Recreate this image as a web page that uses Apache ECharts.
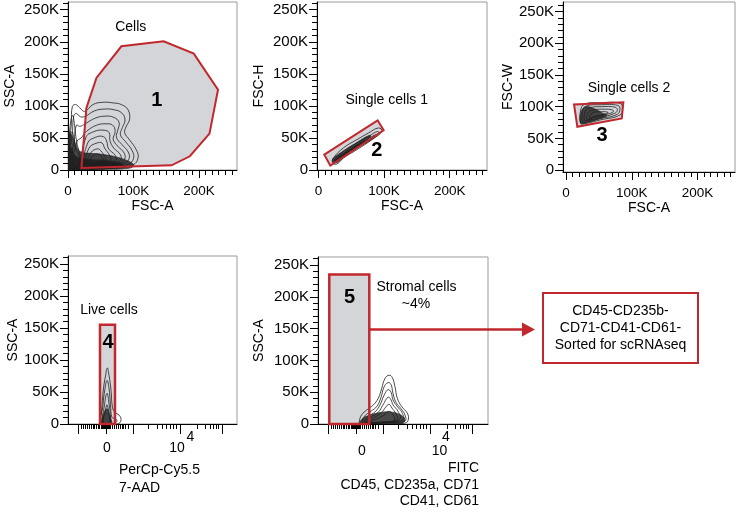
<!DOCTYPE html>
<html><head><meta charset="utf-8">
<script src="https://cdn.jsdelivr.net/npm/echarts@6/dist/echarts.min.js"></script>
<style>html,body{margin:0;padding:0;background:#fff}#c{width:736px;height:512px}</style>
</head><body><div id="c"></div>
<script>
// ---------- tick values (K units for linear axes, display units for biexponential axes) ----------
const linYLabels = [0, 50, 100, 150, 200, 250];
const linYMinor = [10,20,30,40,60,70,80,90,110,120,130,140,160,170,180,190,210,220,230,240,260];
const fscXLabels = [0, 100, 200];
const fscXMinor = [10,20,30,40,50,60,70,80,90,110,120,130,140,150,160,170,180,190,210,220,230,240,250];
const biexMajor = [10, 38, 65, 112, 154];
const biexMinor = [13,15,17,19,21,23,25,26,28,30,31,33,34,35,36,37,39,40,41,42,44,46,48,50,52,54,55,57,60,80,89,94,98,102,105,108,129,137,142,145,148,150];
const biexLabelText = ['0', '10'];
const biexExpText = '4';
const p4XLabelVals = [39, 109];
const p4XExpVal = 122.5;
const p5XLabelVals = [44, 121.5];
const p5XExpVal = 128;

// ---------- gates ----------
const gate1 = [[20.5,3.3],[28.1,96.8],[43.4,143.6],[81.5,192.9],[146,200.6],[192,181.5],[229,125.3],[216,56.7],[186,21.4],[158,7.3]];
const gate2 = [[8.7,24],[17.9,6.9],[99.3,61.9],[90.1,77.5]];
const gate3 = [[12.2,103.4],[17.2,68.4],[84.8,81.4],[87.2,107]];
const gate4 = [[32,0],[32,155],[47,155],[47,0]];
const gate5 = [[11.3,0],[11.3,235],[51.3,235],[51.3,0]];

// ---------- contour rings ----------
const p1Rings = [
  [[2.6,3],[5.2,73],[6.7,99],[11.8,102],[17.9,97],[25.5,91.5],[38,102],[53,105.6],[69,104.6],[81.5,102],[91.6,94],[94,79],[89,68],[86.6,58],[94,47],[104,32],[107,19],[99,8],[70,3]],
  [[5,4],[7,60],[9,85],[13,88],[19,83],[27,84],[40,92],[55,95],[70,94],[82,89],[87,78],[83,66],[80,55],[88,44],[98,30],[100,18],[92,9],[65,4]],
  [[8,5],[10,50],[13,70],[18,68],[26,72],[42,81],[57,84],[70,82],[78,74],[76,62],[74,51],[82,40],[92,28],[93,17],[85,10],[60,5]],
  [[10,6],[14,45],[20,50],[28,60],[44,70],[58,72],[68,70],[72,60],[69,48],[76,37],[86,26],[86,16],[78,10],[55,6]],
  [[24,7],[27,50],[40,60],[55,62],[63,58],[64,46],[70,34],[80,24],[80,15],[70,10],[50,7]],
  [[26,8],[30,42],[42,51],[54,52],[59,45],[62,33],[72,23],[73,15],[62,10],[45,8]],
  [[28,9],[32,34],[44,42],[52,42],[56,34],[64,22],[65,15],[55,11],[40,9]],
  [[30,10],[35,27],[45,33],[50,30],[56,21],[57,15],[48,12]],
  [[32,11],[38,22],[46,25],[52,20],[54,14],[45,12]],
  [[1,3],[2,50],[4,75],[7,85],[10,70],[13,45],[18,25],[22,10],[15,4]],
  [[1,4],[3,45],[6,60],[9,50],[12,32],[18,18],[14,6]]
];
const p1Cores = [
  [[-2,0],[-2,45],[2,58],[8,50],[14,35],[20,28],[35,26],[55,24],[75,20],[92,14],[100,8],[95,3],[60,1],[20,1]],
  [[-2,0],[-2,30],[4,36],[12,22],[30,17],[60,15],[80,11],[86,5],[50,2]]
];
const p2Rings = [
  [[23,19],[38,34.5],[58.6,47.4],[76.4,57.8],[91.6,65.6],[96.8,60.3],[81.5,47.4],[58.6,31.8],[38.2,18.9],[28,9.5],[21.4,11]],
  [[25,17],[40,31],[60,43],[77,53],[90,60],[92,57],[80,47],[60,35],[40,21],[28,12],[24,13]],
  [[27,16],[42,28],[62,40],[78,50],[87,55],[86,52],[76,45],[58,35],[40,22],[29,14]]
];
const p2Cores = [
  [[21,14],[23,19],[40,31],[60,44],[75,53],[80,53],[72,45],[55,33],[38,20],[26,11]],
  [[24,15],[40,27],[60,40],[70,46],[68,42],[54,33],[38,21],[28,13]]
];
const p3Rings = [
  [[22.3,73.8],[22.3,94.8],[28.9,104.2],[51.7,106.3],[82.1,105.3],[85.7,97.5],[82.1,86.9],[51.7,79],[26.3,72.7]],
  [[25,76],[25,93],[31,101],[52,103],[79,102],[82,96],[78,88],[52,81],[28,75]],
  [[28,78],[29,92],[35,98],[54,100],[75,99],[78,94],[73,89],[52,83],[32,78]],
  [[32,80],[34,91],[42,95],[58,96],[70,95],[72,92],[62,88],[45,84]],
  [[36,82],[40,90],[52,92],[64,91],[58,88],[44,85]]
];
const p3Cores = [
  [[22,74],[23,92],[30,100],[45,96],[55,90],[62,86],[48,80],[32,75]]
];
const p4Rings = [
  [[33,0],[33.7,22],[35.3,53],[37.5,75],[39.3,87.5],[41,76],[43,53],[44.5,26],[47,18],[51,14],[53,7],[51,1],[45,0]],
  [[34,1],[35,30],[37,55],[39,68],[41,56],[42.5,30],[44,10],[47,9],[49,5],[46,1]],
  [[35,1],[36.5,30],[39,48],[41,32],[42.5,10],[42,1]],
  [[35.5,1],[37.5,22],[39,30],[40.5,20],[41.5,1]]
];
const p4Cores = [
  [[34,0],[35,14],[39,24],[42,12],[43.5,0]]
];
const p5Rings = [
  [[41.3,4],[43.7,14.5],[48.7,22],[55.3,30],[60.3,40.5],[63.7,56],[67,71.6],[71,76.7],[74.3,73],[77,58.5],[79.3,40.5],[83.7,27.4],[89.3,17],[90.3,6.7],[87,1.5],[68.7,0],[42,0]],
  [[44,3],[47,13],[53,20],[59,28],[63,42],[66,58],[70,65],[73,62],[75,48],[78,34],[83,24],[87,14],[87,5],[70,2],[46,1]],
  [[46,3],[50,12],[57,19],[62,30],[66,45],[70,54],[73,50],[75,38],[79,28],[84,18],[85,7],[70,3],[48,2]],
  [[48,3],[53,11],[60,18],[65,30],[70,42],[73,38],[75,30],[80,20],[82,8],[68,3]],
  [[50,3],[56,10],[63,17],[68,27],[71,31],[74,25],[78,16],[79,7],[66,3]],
  [[52,3],[60,9],[66,14],[71,20],[76,12],[76,5],[64,3]]
];
const p5Cores = [
  [[42,1],[45,9],[52,14],[62,18],[72,19],[82,15],[87,7],[84,1],[65,0]]
];

// ---------- layout ----------
const FONT = '"Liberation Sans", Arial, sans-serif';
const RED = '#c1272d';
const GATE_FILL = '#d4d5d8';
const grids = [
  {left:68, top:2, width:169, height:168},
  {left:317, top:2, width:170, height:168},
  {left:563, top:2, width:172, height:170},
  {left:68, top:256, width:169, height:168},
  {left:318, top:257, width:170, height:167}
].map(g => Object.assign(g, {show:true, borderColor:'#9a9a9a', borderWidth:1, backgroundColor:'transparent'}));

const panels = [
  {x:[0,258], y:[0,262], xType:'fsc', xName:'FSC-A', yName:'SSC-A', yGap:51, gate:gate1, rings:p1Rings, cores:p1Cores, gw:2},
  {x:[-2.4,257], y:[0,262], xType:'fsc', xName:'FSC-A', yName:'FSC-H', yGap:51, gate:gate2, rings:p2Rings, cores:p2Cores, gw:2},
  {x:[-4.6,257], y:[-3,265], xType:'fsc', xName:'FSC-A', yName:'FSC-W', yGap:46, gate:gate3, rings:p3Rings, cores:p3Cores, gw:2},
  {x:[0,169], y:[0,262.5], xType:'biex', labels:p4XLabelVals, exp:p4XExpVal, lmargin:17, yName:'SSC-A', yGap:48, gate:gate4, rings:p4Rings, cores:p4Cores, gw:2.5},
  {x:[0,170], y:[0,262.5], xType:'biex', labels:p5XLabelVals, exp:p5XExpVal, lmargin:20, yName:'SSC-A', yGap:52, gate:gate5, rings:p5Rings, cores:p5Cores, gw:2.5}
];

const xAxes = [], yAxes = [], series = [], expAxes = [];
const kFmt = v => v === 0 ? '0' : (v + 'K');

panels.forEach((p, i) => {
  const isB = p.xType === 'biex';
  xAxes.push({
    gridIndex:i, type:'value', min:p.x[0], max:p.x[1], position:'bottom',
    axisLine:{show:true, onZero:false, lineStyle:{color:'#000', width:1}},
    axisTick:{show:true, customValues: isB ? biexMajor : fscXLabels, length: isB ? 10 : 8, lineStyle:{color:'#000'}},
    axisLabel:{show:true, customValues: isB ? p.labels : fscXLabels, margin: isB ? p.lmargin : 14,
      fontSize: isB ? 14 : 13.5, color:'#000', fontFamily:FONT,
      formatter: isB ? (v => biexLabelText[p.labels.indexOf(v)]) : kFmt},
    splitLine:{show:false},
    name: isB ? '' : p.xName, nameLocation:'middle', nameGap:25,
    nameTextStyle:{fontSize:14, color:'#000', fontFamily:FONT}
  });
  xAxes.push({
    gridIndex:i, type:'value', min:p.x[0], max:p.x[1], position:'bottom',
    axisLine:{show:false, onZero:false},
    axisTick:{show:true, customValues: isB ? biexMinor : fscXMinor, length:5, lineStyle:{color:'#000'}},
    axisLabel:{show:false}, splitLine:{show:false}
  });
  if (isB) {
    expAxes.push({
      gridIndex:i, type:'value', min:p.x[0], max:p.x[1], position:'bottom',
      axisLine:{show:false, onZero:false}, axisTick:{show:false}, splitLine:{show:false},
      axisLabel:{show:true, customValues:[p.exp], margin:6, fontSize:14, color:'#000', fontFamily:FONT,
        formatter: () => biexExpText}
    });
  }
  yAxes.push({
    gridIndex:i, type:'value', min:p.y[0], max:p.y[1], position:'left',
    axisLine:{show:true, onZero:false, lineStyle:{color:'#000', width:1}},
    axisTick:{show:true, customValues: linYLabels, length:8, lineStyle:{color:'#000'}},
    axisLabel:{show:true, customValues: linYLabels, margin:9, fontSize:15, color:'#000', fontFamily:FONT, formatter:kFmt},
    splitLine:{show:false},
    name:p.yName, nameLocation:'middle', nameGap:p.yGap,
    nameTextStyle:{fontSize:14, color:'#000', fontFamily:FONT}
  });
  yAxes.push({
    gridIndex:i, type:'value', min:p.y[0], max:p.y[1], position:'left',
    axisLine:{show:false, onZero:false},
    axisTick:{show:true, customValues: linYMinor, length:5, lineStyle:{color:'#000'}},
    axisLabel:{show:false}, splitLine:{show:false}
  });

  const mk = (list, style, z, clip) => ({
    type:'custom', coordinateSystem:'cartesian2d', xAxisIndex:i*2, yAxisIndex:i*2,
    z:z, silent:true, clip:clip, animation:false,
    data: list.map(r => r[0]),
    renderItem: (params, api) => {
      const pts = list[params.dataIndex].map(pt => api.coord(pt));
      return {type:'polygon', shape:{points:pts, smooth:style.smooth || 0},
        style:{fill:style.fill || 'none', stroke:style.stroke || 'none', lineWidth:style.lineWidth || 1, opacity:style.opacity == null ? 1 : style.opacity}};
    }
  });
  series.push(mk([p.gate], {fill:GATE_FILL}, 1, false));
  series.push(mk(p.cores, {fill:'#1c1c1c', stroke:'#2a2a2a', lineWidth:0.8, smooth:0.4, opacity:0.8}, 2, true));
  series.push(mk(p.rings, {stroke:'#1e1e1e', lineWidth:0.8, smooth:0.45}, 3, true));
  series.push(mk([p.gate], {stroke:RED, lineWidth:p.gw}, 4, false));
});
expAxes.forEach(a => xAxes.push(a));

const txt = (x, y, t, size, bold, align) => ({
  type:'text', x:x, y:y, z:100,
  style:{text:t, fill:'#000', font:(bold ? 'bold ' : '') + size + 'px ' + FONT,
    textAlign:align || 'center', textVerticalAlign:'middle'}
});

const graphic = [
  txt(130.7, 27.3, 'Cells', 14),
  txt(156.7, 100, '1', 20, true),
  txt(386.7, 100, 'Single cells 1', 14),
  txt(376.7, 150, '2', 20, true),
  txt(629, 88, 'Single cells 2', 14),
  txt(602, 135, '3', 20, true),
  txt(109, 310, 'Live cells', 14),
  txt(108, 342, '4', 20, true),
  txt(349.5, 297, '5', 20, true),
  txt(416.5, 287, 'Stromal cells', 14),
  txt(416, 304, '~4%', 14),
  txt(119, 470, 'PerCp-Cy5.5', 14, false, 'left'),
  txt(119, 488, '7-AAD', 14, false, 'left'),
  txt(479, 468, 'FITC', 14, false, 'right'),
  txt(479, 485, 'CD45, CD235a, CD71', 14, false, 'right'),
  txt(479, 501, 'CD41, CD61', 14, false, 'right'),
  {type:'line', z:100, shape:{x1:369, y1:329.5, x2:525, y2:329.5}, style:{stroke:RED, lineWidth:2.5}},
  {type:'polygon', z:100, shape:{points:[[522,322.5],[535,329.5],[522,336.5]]}, style:{fill:RED}},
  {type:'rect', z:100, shape:{x:543, y:293, width:155, height:70}, style:{fill:'#fff', stroke:RED, lineWidth:2}},
  txt(620.5, 311, 'CD45-CD235b-', 14),
  txt(620.5, 328, 'CD71-CD41-CD61-', 14),
  txt(620.5, 345, 'Sorted for scRNAseq', 14)
];

const chart = echarts.init(document.getElementById('c'), null, {renderer:'canvas'});
chart.setOption({
  animation:false,
  backgroundColor:'#fff',
  grid:grids, xAxis:xAxes, yAxis:yAxes, series:series, graphic:graphic
});
</script>
</body></html>
